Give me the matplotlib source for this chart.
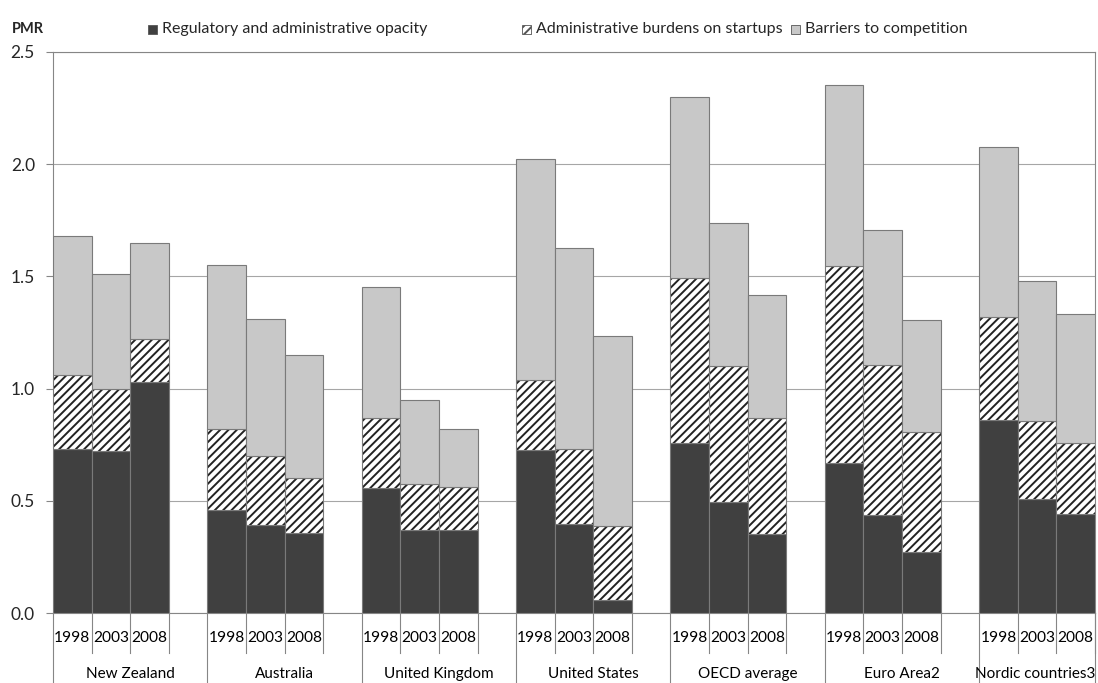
import matplotlib
matplotlib.use('Agg')
import matplotlib.pyplot as plt
from matplotlib.patches import Rectangle
import numpy as np

plt.rcParams['font.family'] = ['Lato', 'DejaVu Sans']
plt.rcParams['hatch.linewidth'] = 1.4

# ---------------- data ----------------
groups = ['New Zealand', 'Australia', 'United Kingdom', 'United States',
          'OECD average', 'Euro Area2', 'Nordic countries3']
years = ['1998', '2003', '2008']
series_names = ['Regulatory and administrative opacity',
                'Administrative burdens on startups',
                'Barriers to competition']
opacity = [[0.73, 0.72, 1.03],
           [0.46, 0.39, 0.355],
           [0.556, 0.37, 0.37],
           [0.726, 0.395, 0.058],
           [0.757, 0.493, 0.352],
           [0.667, 0.438, 0.274],
           [0.86, 0.507, 0.44]]
startups = [[0.33, 0.28, 0.19],
            [0.36, 0.31, 0.245],
            [0.314, 0.203, 0.193],
            [0.312, 0.335, 0.331],
            [0.734, 0.608, 0.517],
            [0.881, 0.667, 0.531],
            [0.459, 0.35, 0.316]]
competition = [[0.62, 0.51, 0.43],
               [0.73, 0.61, 0.55],
               [0.581, 0.376, 0.258],
               [0.984, 0.898, 0.845],
               [0.81, 0.636, 0.547],
               [0.805, 0.603, 0.499],
               [0.759, 0.623, 0.576]]
y_ticks = [0.0, 0.5, 1.0, 1.5, 2.0, 2.5]

# ---------------- styling ----------------
DARK = '#404040'
LIGHT = '#c8c8c8'
EDGE = '#7a7a7a'
AXC = '#868686'
TXT = '#262626'

W, H = 1098, 683
fig = plt.figure(figsize=(W / 100, H / 100), dpi=100)
ax = fig.add_axes([53 / W, 1 - 613 / H, (1095 - 53) / W, (613 - 52) / H])

slots_per_group = 4
pos = np.array([g * slots_per_group + j for g in range(len(groups)) for j in range(len(years))], dtype=float)
op = np.array(opacity).ravel()
st = np.array(startups).ravel()
co = np.array(competition).ravel()

ax.bar(pos, op, width=1.0, color=DARK, edgecolor=EDGE, linewidth=0.8, zorder=3)
ax.bar(pos, st, bottom=op, width=1.0, color='white', edgecolor='#222222',
       hatch='////', linewidth=0, zorder=3)
ax.bar(pos, st, bottom=op, width=1.0, color='none', edgecolor=EDGE, linewidth=0.8, zorder=3)
ax.bar(pos, co, bottom=op + st, width=1.0, color=LIGHT, edgecolor=EDGE, linewidth=0.8, zorder=3)

n_slots = len(groups) * slots_per_group - 1
ax.set_xlim(-0.5, n_slots - 0.5)
ax.set_ylim(0, 2.5)
ax.set_yticks(y_ticks)
ax.set_yticklabels([f'{v:.1f}' for v in y_ticks])
ax.yaxis.grid(True, color='#a6a6a6', linewidth=0.8, zorder=0)
ax.set_axisbelow(True)

for s in ax.spines.values():
    s.set_color(AXC)
    s.set_linewidth(0.8)

ax.tick_params(axis='y', direction='out', length=5, width=0.8, color=AXC,
               labelsize=12.5, labelcolor=TXT, pad=8)
ax.set_xticks(pos)
ax.set_xticklabels(years * len(groups))
ax.tick_params(axis='x', length=0, labelsize=11.2, labelcolor='black', pad=13)

# category separators
trans = ax.get_xaxis_transform()
ax_h = 613 - 52
short = -40 / ax_h
long_ = -80 / ax_h
for g in range(len(groups)):
    base = g * slots_per_group
    for j in range(len(years)):
        ax.plot([base + j + 0.5] * 2, [0, short], transform=trans, color=AXC,
                lw=0.8, clip_on=False)
    ax.plot([base - 0.5] * 2, [0, long_], transform=trans, color=AXC, lw=0.8, clip_on=False)
    ax.text(base + 1.5 if g < len(groups) - 1 else base + 0.95, -61 / ax_h, groups[g],
            transform=trans, ha='center', va='center', fontsize=11, color='black')
ax.plot([n_slots - 0.5] * 2, [0, long_], transform=trans, color=AXC, lw=0.8, clip_on=False)

# PMR label
fig.text(12 / W, 1 - 29 / H, 'PMR', fontsize=10.5, fontweight='bold', color=TXT,
         ha='left', va='center')

# legend
leg_items = [(148, DARK, None, series_names[0]),
             (522, 'white', '////', series_names[1]),
             (791, LIGHT, None, series_names[2])]
sq = 9
for x0, fc, hatch, label in leg_items:
    r = Rectangle((x0 / W, 1 - 34 / H), sq / W, sq / H, transform=fig.transFigure,
                  facecolor=fc, edgecolor='#555555', linewidth=0.6, hatch=hatch)
    fig.add_artist(r)
    fig.text((x0 + sq + 5) / W, 1 - 29 / H, label, fontsize=11.5, color=TXT,
             ha='left', va='center')

fig.savefig('out.png', dpi=100)
